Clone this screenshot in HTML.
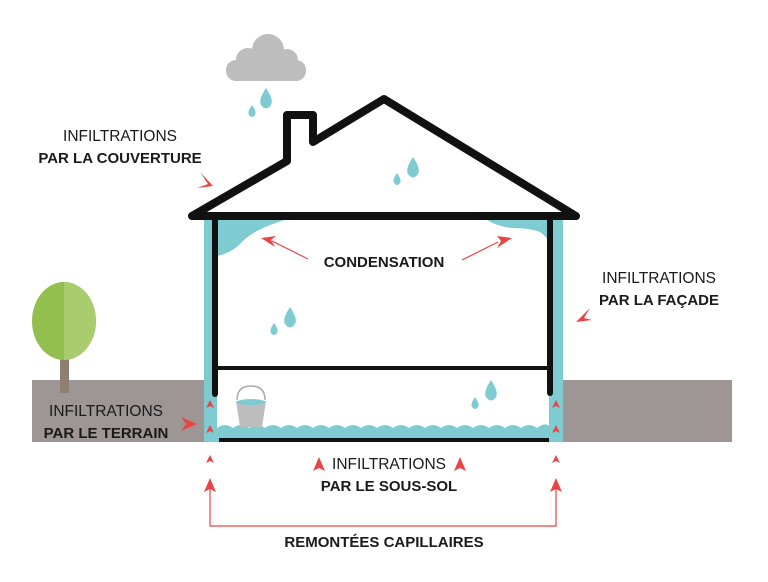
<!DOCTYPE html>
<html><head><meta charset="utf-8"><style>
html,body{margin:0;padding:0;background:#fff;width:768px;height:582px;overflow:hidden}
svg{display:block}
text{font-family:"Liberation Sans",sans-serif;fill:#1a1a1a}
.n{font-size:15.5px;font-weight:normal}
.b{font-size:15px;font-weight:bold}
</style></head><body>
<svg width="768" height="582" viewBox="0 0 768 582">
<rect x="32" y="380" width="172" height="62" fill="#9e9595"/>
<rect x="563" y="380" width="169" height="62" fill="#9e9595"/>
<rect x="60" y="355" width="9" height="38" fill="#8f7f72"/>
<ellipse cx="64" cy="321" rx="32" ry="39" fill="#93bf4e"/>
<path d="M64 282 A32 39 0 0 1 64 360 Z" fill="#a9cc6e"/>
<rect x="204" y="217" width="13" height="225" fill="#7ecbd2"/>
<rect x="549" y="217" width="14" height="225" fill="#7ecbd2"/>
<path d="M217 219 L288 219 Q270 224 255 232 Q245 238 238 246 Q228 254 217 256 Z" fill="#7ecbd2"/>
<path d="M549 219 L486 219 Q495 226 512 228 Q530 228 540 232 Q546 236 549 242 Z" fill="#7ecbd2"/>
<path d="M217 428 q8 -6 16 0 q8 -6 16 0 q8 -6 16 0 q8 -6 16 0 q8 -6 16 0 q8 -6 16 0 q8 -6 16 0 q8 -6 16 0 q8 -6 16 0 q8 -6 16 0 q8 -6 16 0 q8 -6 16 0 q8 -6 16 0 q8 -6 16 0 q8 -6 16 0 q8 -6 16 0 q8 -6 16 0 q8 -6 16 0 q8 -6 16 0 q8 -6 16 0 q8 -6 12 -2 L549 442 L217 442 Z" fill="#7ecbd2"/>
<line x1="215" y1="217" x2="215" y2="394" stroke="#111" stroke-width="6" stroke-linecap="round"/>
<line x1="550" y1="217" x2="550" y2="393" stroke="#111" stroke-width="6" stroke-linecap="round"/>
<line x1="217" y1="368" x2="549" y2="368" stroke="#111" stroke-width="4"/>
<line x1="219" y1="440" x2="549" y2="440" stroke="#111" stroke-width="4"/>
<path d="M192 216 L287 161 L287 115 L313 115 L313 142 L384 99 L576 216 Z" fill="none" stroke="#111" stroke-width="8" stroke-linejoin="round"/>
<g fill="#bdbdbd">
<circle cx="268" cy="50" r="16"/><circle cx="248" cy="60" r="12"/><circle cx="287" cy="60" r="11"/><circle cx="295" cy="70" r="10"/>
<rect x="226" y="60" width="80" height="21" rx="10"/>
</g>
<g fill="#7ecbd2">
<path d="M266 88 Q258 100 261 105 Q266 112 271 105 Q274 100 266 88Z"/>
<path d="M252 105 Q247 112 249 115 Q252 119 255 115 Q257 112 252 105Z"/>
<path d="M413 157 Q405 169 408 174 Q413 181 418 174 Q421 169 413 157Z"/>
<path d="M397 173 Q392 180 394 183 Q397 187 400 183 Q402 180 397 173Z"/>
<path d="M290 307 Q282 319 285 324 Q290 331 295 324 Q298 319 290 307Z"/>
<path d="M274 323 Q269 330 271 333 Q274 337 277 333 Q279 330 274 323Z"/>
<path d="M491 380 Q483 392 486 397 Q491 404 496 397 Q499 392 491 380Z"/>
<path d="M475 397 Q470 404 472 407 Q475 411 478 407 Q480 404 475 397Z"/>
</g>
<path d="M237 400 Q237 386 251 386 Q265 386 265 400" fill="none" stroke="#aaa" stroke-width="1.5"/>
<path d="M236 401 L266 401 L262 427 L240 427 Z" fill="#bdbdbd"/>
<ellipse cx="251" cy="402" rx="14" ry="3" fill="#7ecbd2"/>
<g fill="#e94545" stroke="none">
<path d="M213 186 L200 172 L208 184 L197 188 Z"/>
<path d="M576 322 L590 308 L584 318 L592 320 Z"/>
<path d="M197 424 L181 417 L186 424 L181 431 Z"/>
<path d="M261 238 L276 236 L271 240 L275 247 Z"/>
<path d="M512 238 L497 236 L501 241 L497 248 Z"/>
<path d="M210 400 l-4 8 l4 -2 l4 2z"/><path d="M210 425 l-4 8 l4 -2 l4 2z"/><path d="M210 455 l-4 8 l4 -2 l4 2z"/>
<path d="M556 400 l-4 8 l4 -2 l4 2z"/><path d="M556 425 l-4 8 l4 -2 l4 2z"/><path d="M556 455 l-4 8 l4 -2 l4 2z"/>
<path d="M210 478 l-6 14 l6 -3 l6 3z"/><path d="M556 478 l-6 14 l6 -3 l6 3z"/>
<path d="M319 457 l-6 14 l6 -3 l6 3z"/><path d="M460 457 l-6 14 l6 -3 l6 3z"/>
</g>
<g stroke="#e94545" stroke-width="1.2" fill="none">
<line x1="272" y1="241" x2="308" y2="259"/>
<line x1="498" y1="242" x2="462" y2="260"/>
<polyline points="210,488 210,526 556,526 556,488"/>
</g>
<text class="n" x="120" y="141" text-anchor="middle">INFILTRATIONS</text>
<text class="b" x="120" y="163" text-anchor="middle">PAR LA COUVERTURE</text>
<text class="b" x="384" y="267" text-anchor="middle">CONDENSATION</text>
<text class="n" x="659" y="283" text-anchor="middle">INFILTRATIONS</text>
<text class="b" x="659" y="305" text-anchor="middle">PAR LA FAÇADE</text>
<text class="n" x="106" y="416" text-anchor="middle">INFILTRATIONS</text>
<text class="b" x="106" y="438" text-anchor="middle">PAR LE TERRAIN</text>
<text class="n" x="389" y="469" text-anchor="middle">INFILTRATIONS</text>
<text class="b" x="389" y="491" text-anchor="middle">PAR LE SOUS-SOL</text>
<text class="b" x="384" y="547" text-anchor="middle">REMONTÉES CAPILLAIRES</text>
</svg>
</body></html>
